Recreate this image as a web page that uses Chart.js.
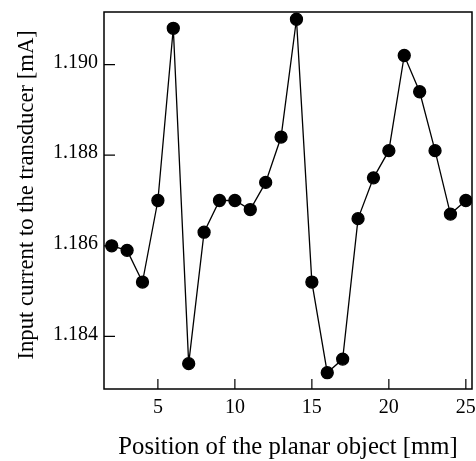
<!DOCTYPE html>
<html>
<head>
<meta charset="utf-8">
<script src="https://cdn.jsdelivr.net/npm/chart.js@4/dist/chart.umd.min.js"></script>
<style>
  html, body { margin: 0; padding: 0; background: #fff; }
  #wrap { width: 476px; height: 461px; }
</style>
</head>
<body>
<div id="wrap"><canvas id="chart"></canvas></div>
<script>
// ========== DATA ==========
const positions = [2, 3, 4, 5, 6, 7, 8, 9, 10, 11, 12, 13, 14, 15, 16, 17, 18, 19, 20, 21, 22, 23, 24, 25];
const currents = [1.1860, 1.1859, 1.1852, 1.1870, 1.1908, 1.1834, 1.1863, 1.1870, 1.1870, 1.1868,
  1.1874, 1.1884, 1.1910, 1.1852, 1.1832, 1.1835, 1.1866, 1.1875, 1.1881, 1.1902,
  1.1894, 1.1881, 1.1867, 1.1870];
const xTicks = [5, 10, 15, 20, 25];
const yTicks = [1.184, 1.186, 1.188, 1.190];

const FONT = "'Liberation Serif', 'Times New Roman', serif";

// inward ticks + frame
const frameTicks = {
  id: "frameTicks",
  afterDraw(chart) {
    const { ctx, chartArea: a, scales } = chart;
    ctx.save();
    ctx.strokeStyle = "#000";
    ctx.lineWidth = 1.5;
    ctx.strokeRect(a.left, a.top, a.right - a.left, a.bottom - a.top);
    ctx.lineWidth = 1.2;
    ctx.beginPath();
    xTicks.forEach((v) => {
      const px = scales.x.getPixelForValue(v);
      ctx.moveTo(px, a.bottom);
      ctx.lineTo(px, a.bottom - 10);
    });
    yTicks.forEach((v) => {
      const py = scales.y.getPixelForValue(v);
      ctx.moveTo(a.left, py);
      ctx.lineTo(a.left + 11, py);
    });
    ctx.stroke();
    ctx.restore();
  },
};

new Chart(document.getElementById("chart"), {
  type: "line",
  data: {
    datasets: [
      {
        data: positions.map((p, i) => ({ x: p, y: currents[i] })),
        borderColor: "#000",
        backgroundColor: "#000",
        borderWidth: 1.3,
        pointRadius: 6,
        pointHoverRadius: 6,
        tension: 0,
      },
    ],
  },
  options: {
    responsive: true,
    maintainAspectRatio: false,
    animation: false,
    layout: { autoPadding: false, padding: { left: 0, top: 12, right: 4, bottom: 0 } },
    plugins: { legend: { display: false }, tooltip: { enabled: false } },
    scales: {
      x: {
        type: "linear",
        min: 1.5,
        max: 25.4,
        afterBuildTicks: (s) => { s.ticks = xTicks.map((v) => ({ value: v })); },
        afterFit: (s) => { s.height = 72; s.paddingLeft = 0; s.paddingRight = 0; },
        grid: { display: false, drawTicks: false, tickLength: 0 },
        border: { display: false },
        ticks: { color: "#000", padding: 7, maxRotation: 0, font: { family: FONT, size: 20 } },
        title: {
          display: true,
          text: "Position of the planar object [mm]",
          color: "#000",
          font: { family: FONT, size: 24.7, lineHeight: 1 },
          padding: { top: 0, bottom: 1 },
        },
      },
      y: {
        type: "linear",
        min: 1.18284,
        max: 1.19116,
        afterBuildTicks: (s) => { s.ticks = yTicks.map((v) => ({ value: v })); },
        afterFit: (s) => { s.width = 104; s.paddingTop = 0; s.paddingBottom = 0; },
        grid: { display: false, drawTicks: false, tickLength: 0 },
        border: { display: false },
        ticks: {
          color: "#000",
          padding: 6,
          labelOffset: -2,
          font: { family: FONT, size: 20 },
          callback: (v) => v.toFixed(3),
        },
        title: {
          display: true,
          // leading spaces nudge the centred title up a little, as in the original
          text: "  Input current to the transducer [mA]",
          color: "#000",
          font: { family: FONT, size: 22.7, lineHeight: 1 },
          padding: { top: 16, bottom: 0 },
        },
      },
    },
  },
  plugins: [frameTicks],
});
</script>
</body>
</html>
